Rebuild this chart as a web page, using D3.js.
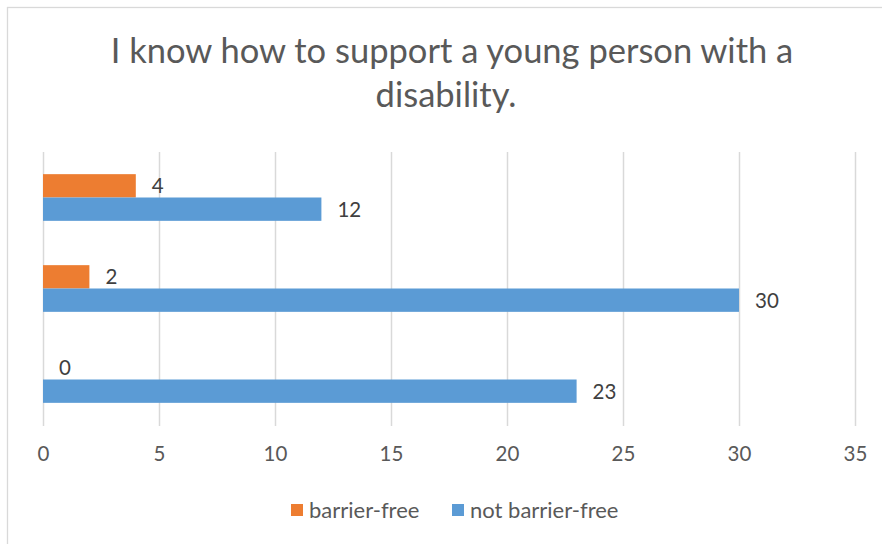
<!DOCTYPE html>
<html>
<head>
<meta charset="utf-8">
<script src="https://cdn.jsdelivr.net/npm/d3@7"></script>
<style>
  html, body { margin: 0; padding: 0; background: #fff; }
  svg { display: block; }
  text { font-family: Lato, "Open Sans", sans-serif; }
</style>
</head>
<body>
<svg id="chart" width="882" height="544"></svg>
<script>
// ---- data ----
const titleLines = ["I know how to support a young person with a", "disability."];
const categories = ["Group 1", "Group 2", "Group 3"]; // first category drawn at bottom (Excel bar order)
const seriesNames = ["barrier-free", "not barrier-free"];
const barrierFree = [0, 2, 4];
const notBarrierFree = [23, 30, 12];
const xTicks = [0, 5, 10, 15, 20, 25, 30, 35];
const colors = ["#ED7D31", "#5B9BD5"];

const W = 882, H = 544;
const svg = d3.select("#chart");

// outer frame
svg.append("rect").attr("x", 7.5).attr("y", 7.5).attr("width", W + 10).attr("height", H + 10)
  .attr("fill", "#fff").attr("stroke", "#D9D9D9").attr("stroke-width", 1.3);

const plot = { left: 43, right: 855, top: 152, bottom: 425 };

const x = d3.scaleLinear().domain([0, 35]).range([plot.left, plot.right]);
const y0 = d3.scaleBand().domain(categories.slice().reverse())
  .range([plot.top, plot.bottom]).paddingInner(0.487).paddingOuter(0.2435);
const y1 = d3.scaleBand().domain(seriesNames).range([0, y0.bandwidth()]);

// title
const title = svg.append("text").attr("text-anchor", "middle").attr("fill", "#595959")
  .attr("font-size", 34.5);
const titleX = [452, 446];
titleLines.forEach((t, i) => {
  title.append("tspan").attr("x", titleX[i]).attr("y", 63 + i * 44).text(t);
});

// gridlines
const grid = d3.axisBottom(x).tickValues(xTicks).tickSize(-(plot.bottom - plot.top + 1)).tickFormat("");
svg.append("g").attr("transform", `translate(0,${plot.bottom + 1})`).call(grid)
  .call(g => g.select(".domain").remove())
  .call(g => g.selectAll("line").attr("stroke", "#D9D9D9").attr("stroke-width", 1.5));

// tick labels
const axis = d3.axisBottom(x).tickValues(xTicks).tickSize(0).tickPadding(0);
svg.append("g").attr("transform", `translate(0,461)`).call(axis)
  .call(g => g.select(".domain").remove())
  .call(g => g.selectAll("text").attr("fill", "#595959").attr("font-size", 20.5)
    .attr("font-family", "Lato, sans-serif").attr("dy", 0));

// bars
const rows = categories.map((c, i) => ({ cat: c, values: [barrierFree[i], notBarrierFree[i]] }));
const groups = svg.append("g").selectAll("g").data(rows).join("g")
  .attr("transform", d => `translate(0,${y0(d.cat)})`);

groups.selectAll("rect").data(d => d.values.map((v, j) => ({ s: seriesNames[j], v, j })))
  .join("rect")
  .attr("x", x(0))
  .attr("y", d => y1(d.s))
  .attr("width", d => x(d.v) - x(0))
  .attr("height", y1.bandwidth())
  .attr("fill", d => colors[d.j]);

groups.selectAll("text.lbl").data(d => d.values.map((v, j) => ({ s: seriesNames[j], v, j })))
  .join("text").attr("class", "lbl")
  .attr("x", d => x(d.v) + 16)
  .attr("y", d => y1(d.s) + y1.bandwidth() / 2)
  .attr("dy", "0.36em")
  .attr("fill", "#404040").attr("font-size", 20.5)
  .text(d => d.v);

// legend
const legend = svg.append("g").attr("transform", "translate(0,510)");
const legendItems = [
  { name: seriesNames[0], color: colors[0], x: 291 },
  { name: seriesNames[1], color: colors[1], x: 452 }
];
legendItems.forEach(it => {
  legend.append("rect").attr("x", it.x).attr("y", -6).attr("width", 12).attr("height", 12).attr("fill", it.color);
  legend.append("text").attr("x", it.x + 18).attr("y", 0).attr("dy", "0.36em")
    .attr("fill", "#595959").attr("font-size", 22).text(it.name);
});
</script>
</body>
</html>
